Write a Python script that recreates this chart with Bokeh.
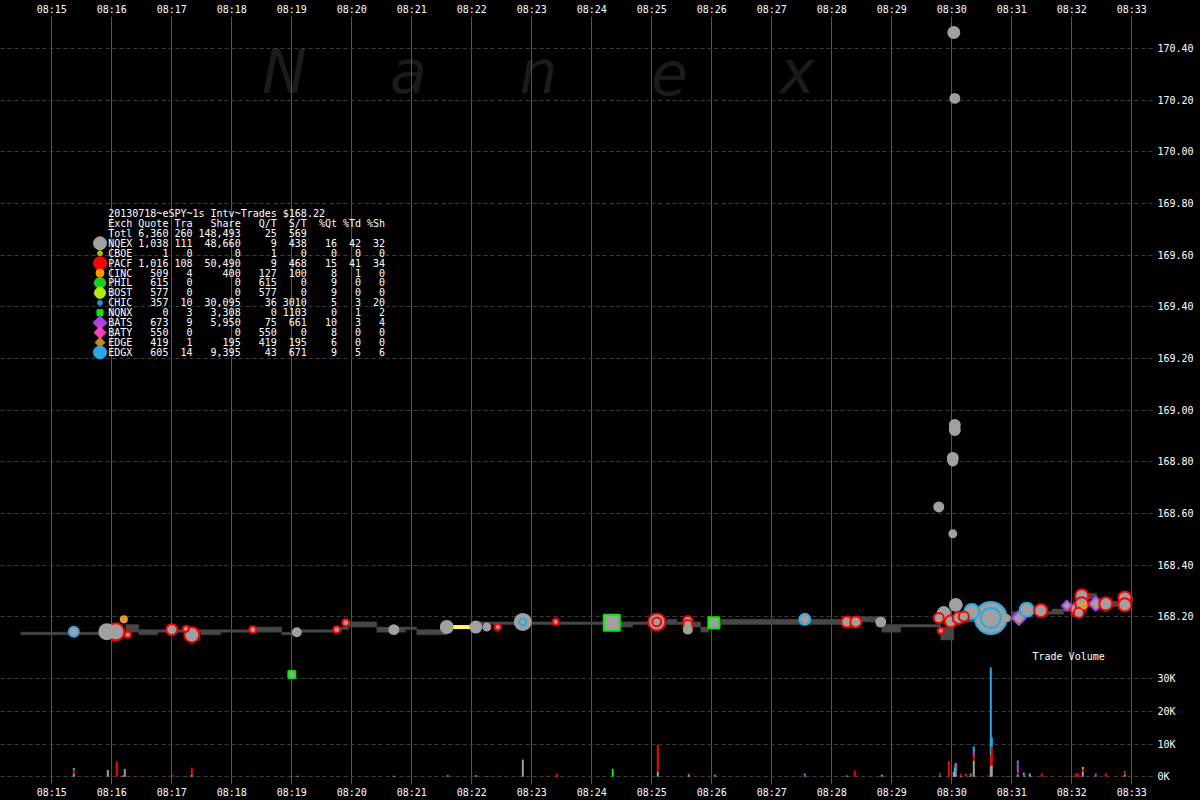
import numpy as np
from bokeh.plotting import figure
from bokeh.models import Range1d, LinearAxis, FixedTicker, ColumnDataSource, Label
from bokeh.core.properties import value
from bokeh.embed import file_html
from bokeh.resources import INLINE

# ---------------------------------------------------------------- data
title_line = "20130718~eSPY~1s Intv~Trades $168.22"
header = ["Exch", "Quote", "Tra", "Share", "Q/T", "S/T", "%Qt", "%Td", "%Sh"]
exchanges = ["NQEX", "CBOE", "PACF", "CINC", "PHIL", "BOST", "CHIC", "NQNX", "BATS", "BATY", "EDGE", "EDGX"]
ex_quote = [1038, 1, 1016, 509, 615, 577, 357, 0, 673, 550, 419, 605]
ex_trades = [111, 0, 108, 4, 0, 0, 10, 3, 9, 0, 1, 14]
ex_shares = [48660, 0, 50490, 400, 0, 0, 30095, 3308, 5950, 0, 195, 9395]
ex_qt = [9, 1, 9, 127, 615, 577, 36, 0, 75, 550, 419, 43]
ex_st = [438, 0, 468, 100, 0, 0, 3010, 1103, 661, 0, 195, 671]
ex_pct_qt = [16, 0, 15, 8, 9, 9, 5, 0, 10, 8, 6, 9]
ex_pct_td = [42, 0, 41, 1, 0, 0, 3, 1, 3, 0, 0, 5]
ex_pct_sh = [32, 0, 34, 0, 0, 0, 20, 2, 4, 0, 0, 6]
tot_quote, tot_trades, tot_shares, tot_qt, tot_st = 6360, 260, 148493, 25, 569

# quotes (bid / ask band), each lasting until the next quote time
q_time = ["08:14:29", "08:16:14", "08:16:27", "08:16:46", "08:17:29", "08:17:49", "08:18:24", "08:18:50",
          "08:19:02", "08:19:44", "08:19:57", "08:20:25", "08:20:54", "08:21:05", "08:21:35", "08:22:04",
          "08:24:28", "08:24:41", "08:25:15", "08:25:25", "08:25:40", "08:25:49", "08:25:57", "08:26:09",
          "08:28:27", "08:28:45", "08:28:50", "08:29:09", "08:29:49", "08:30:02", "08:31:00", "08:31:07",
          "08:31:40", "08:31:52", "08:32:15", "08:32:25", "08:32:40", "08:32:49", "08:32:57"]
q_end = "08:33:01"
q_bid = [168.13, 168.14, 168.13, 168.14, 168.13, 168.14, 168.14, 168.13, 168.14, 168.15, 168.16, 168.14,
         168.15, 168.13, 168.16, 168.17, 168.16, 168.17, 168.17, 168.17, 168.16, 168.14, 168.16, 168.17,
         168.18, 168.16, 168.14, 168.16, 168.11, 168.18, 168.20, 168.21, 168.21, 168.22, 168.27, 168.25,
         168.24, 168.25, 168.26]
q_ask = [168.14, 168.17, 168.15, 168.15, 168.15, 168.15, 168.16, 168.14, 168.15, 168.16, 168.18, 168.16,
         168.16, 168.15, 168.16, 168.18, 168.18, 168.18, 168.19, 168.18, 168.18, 168.16, 168.18, 168.19,
         168.20, 168.18, 168.17, 168.17, 168.16, 168.20, 168.22, 168.22, 168.23, 168.24, 168.29, 168.26,
         168.26, 168.26, 168.28]

# trades
tr_time = ["08:15:22", "08:15:55", "08:16:04", "08:16:12", "08:16:16", "08:17:00", "08:17:14", "08:17:20",
           "08:18:21", "08:19:00", "08:19:05", "08:19:45", "08:19:54", "08:20:42", "08:21:35", "08:22:04",
           "08:22:15", "08:22:26", "08:22:51", "08:22:51", "08:23:24", "08:24:20", "08:25:05", "08:25:05",
           "08:25:36", "08:25:36", "08:25:36", "08:26:02", "08:27:33", "08:28:15", "08:28:24", "08:28:49",
           "08:29:47", "08:30:02", "08:30:03", "08:30:03", "08:30:03", "08:30:01", "08:30:01", "08:30:01",
           "08:29:47", "08:29:49", "08:29:52", "08:29:59", "08:30:04", "08:30:07", "08:30:12", "08:30:20",
           "08:30:39", "08:30:39", "08:30:55", "08:31:07", "08:31:15", "08:31:29", "08:31:55", "08:32:05",
           "08:32:07", "08:32:10", "08:32:10", "08:32:12", "08:32:24", "08:32:34", "08:32:53", "08:32:53"]
tr_price = [168.142, 168.142, 168.142, 168.19, 168.13, 168.15, 168.153, 168.13,
            168.15, 167.976, 168.14, 168.15, 168.177, 168.15, 168.16, 168.16,
            168.16, 168.16, 168.18, 168.18, 168.18, 168.177, 168.18, 168.18,
            168.185, 168.17, 168.15, 168.177, 168.19, 168.18, 168.18, 168.18,
            168.625, 170.462, 170.207, 168.942, 168.923, 168.815, 168.803, 168.521,
            168.195, 168.146, 168.214, 168.182, 168.246, 168.195, 168.201, 168.22,
            168.195, 168.195, 168.195, 168.195, 168.227, 168.224, 168.243, 168.23,
            168.215, 168.281, 168.25, 168.243, 168.25, 168.25, 168.273, 168.246]
tr_exch = ["EDGX", "NQEX", "PACF", "CINC", "PACF", "PACF", "PACF", "PACF",
           "PACF", "NQNX", "NQEX", "PACF", "PACF", "NQEX", "NQEX", "NQEX",
           "NQEX", "PACF", "NQEX", "EDGX", "PACF", "NQNX", "PACF", "PACF",
           "PACF", "PACF", "NQEX", "NQNX", "EDGX", "PACF", "PACF", "NQEX",
           "NQEX", "NQEX", "NQEX", "NQEX", "NQEX", "NQEX", "NQEX", "NQEX",
           "PACF", "PACF", "NQEX", "PACF", "NQEX", "PACF", "PACF", "EDGX",
           "EDGX", "EDGX", "NQEX", "BATS", "EDGX", "PACF", "BATS", "PACF",
           "PACF", "PACF", "PACF", "CINC", "BATS", "PACF", "PACF", "PACF"]
tr_shares = [2500, 8400, 11700, 300, 300, 3400, 300, 8400,
             600, 600, 1100, 600, 600, 1700, 4400, 3400,
             600, 300, 10000, 600, 300, 10000, 11700, 1700,
             1700, 1700, 1100, 3400, 3400, 3400, 3400, 1700,
             1700, 3400, 1700, 2500, 2500, 2500, 1700, 600,
             2500, 300, 4400, 4400, 4400, 4400, 2500, 8400,
             54000, 17800, 300, 6900, 6900, 5600, 2500, 5600,
             2500, 5600, 5600, 100, 6900, 5600, 5600, 5600]

# trade volume (shares per second per exchange)
vol_time = ["08:15:22", "08:15:22", "08:15:22", "08:15:56", "08:16:05", "08:16:11", "08:16:13", "08:16:13",
            "08:16:18", "08:17:01", "08:17:15", "08:17:20", "08:17:20", "08:18:22", "08:19:00", "08:19:06",
            "08:19:46", "08:19:55", "08:20:42", "08:21:36", "08:22:04", "08:22:16", "08:22:27", "08:22:51",
            "08:22:51", "08:23:25", "08:24:21", "08:25:06", "08:25:06", "08:25:37", "08:25:37", "08:26:03",
            "08:27:33", "08:27:33", "08:28:15", "08:28:23", "08:28:50", "08:29:48", "08:29:48", "08:29:55",
            "08:29:57", "08:30:02", "08:30:03", "08:30:03", "08:30:04", "08:30:04", "08:30:09", "08:30:09",
            "08:30:14", "08:30:19", "08:30:19", "08:30:22", "08:30:22", "08:30:22", "08:30:22", "08:30:37",
            "08:30:39", "08:30:39", "08:30:39", "08:30:40", "08:30:40", "08:30:40", "08:30:56", "08:31:06",
            "08:31:06", "08:31:06", "08:31:06", "08:31:12", "08:31:12", "08:31:13", "08:31:18", "08:31:19",
            "08:31:30", "08:31:55", "08:31:59", "08:32:04", "08:32:06", "08:32:11", "08:32:11", "08:32:11",
            "08:32:24", "08:32:34", "08:32:53", "08:32:53"]
vol_exch = ["NQEX", "PACF", "EDGX", "NQEX", "PACF", "NQEX", "NQEX", "CINC",
            "PACF", "PACF", "PACF", "NQEX", "PACF", "PACF", "NQNX", "NQEX",
            "PACF", "PACF", "NQEX", "NQEX", "NQEX", "NQEX", "PACF", "NQEX",
            "PACF", "PACF", "NQNX", "NQEX", "PACF", "NQEX", "PACF", "NQNX",
            "NQEX", "EDGX", "NQEX", "PACF", "NQEX", "NQEX", "PACF", "PACF",
            "PACF", "NQEX", "NQEX", "PACF", "NQEX", "EDGX", "NQEX", "PACF",
            "PACF", "NQEX", "EDGX", "NQEX", "PACF", "BATS", "EDGX", "PACF",
            "NQEX", "PACF", "EDGX", "NQEX", "PACF", "EDGX", "NQEX", "NQEX",
            "PACF", "BATS", "EDGX", "PACF", "EDGX", "EDGX", "NQEX", "EDGX",
            "PACF", "PACF", "BATY", "PACF", "PACF", "NQEX", "PACF", "CINC",
            "BATS", "PACF", "NQEX", "PACF"]
vol_k = [1.0, 1.0, 0.7, 2.1, 4.7, 0.4, 2.0, 0.4,
         0.2, 0.5, 0.3, 0.6, 2.2, 0.2, 0.2, 0.3,
         0.2, 0.2, 0.3, 0.5, 0.5, 0.2, 0.2, 5.2,
         0.3, 0.9, 2.5, 1.5, 8.3, 0.6, 0.5, 0.6,
         0.4, 0.6, 0.4, 1.9, 0.6, 0.4, 0.8, 0.2,
         4.8, 1.5, 2.7, 1.0, 1.0, 3.2, 0.3, 0.6,
         1.0, 0.3, 0.7, 5.0, 1.3, 1.3, 1.7, 0.5,
         3.5, 3.1, 26.9, 3.4, 5.8, 2.9, 0.2, 0.7,
         0.7, 2.7, 0.9, 0.4, 0.9, 0.4, 1.0, 0.2,
         1.0, 0.2, 0.2, 1.0, 1.0, 1.6, 0.6, 0.8,
         1.0, 1.1, 0.7, 1.1]

time_ticks = ["08:15", "08:16", "08:17", "08:18", "08:19", "08:20", "08:21", "08:22", "08:23", "08:24",
              "08:25", "08:26", "08:27", "08:28", "08:29", "08:30", "08:31", "08:32", "08:33"]
price_ticks = [168.20, 168.40, 168.60, 168.80, 169.00, 169.20, 169.40, 169.60, 169.80, 170.00, 170.20, 170.40]
vol_ticks = [0, 10000, 20000, 30000]
vol_tick_labels = ["0K", "10K", "20K", "30K"]
watermark = "Nanex"

# ---------------------------------------------------------------- helpers / layout
def ts(s):
    parts = [int(v) for v in s.split(":")]
    if len(parts) == 2:
        parts.append(0)
    h, m, sec = parts
    return (h - 8) * 3600 + m * 60 + sec

# reference-pixel -> data helpers for annotations (1 px per second, 258.6 px per dollar)
def rx(px):
    return 900 + (px - 51.3)

def ry(py):
    return 168.20 + (617 - py) / 258.6

FRAME_L, FRAME_R, FRAME_T, FRAME_B = 0, 1153, 16, 785
P0, P1 = ry(FRAME_B), ry(FRAME_T)
V0, V1 = -2355.0, 232813.0
X0, X1 = rx(FRAME_L), rx(FRAME_R)

W, H = 1200, 800
MONO = "DejaVu Sans Mono"
GRAY = "#a0a0a0"
ex_color = {"NQEX": "#a0a0a0", "CBOE": "#99c31a", "PACF": "#ff0000", "CINC": "#ff9900", "PHIL": "#22cc22",
            "BOST": "#aaee11", "CHIC": "#1e8fd0", "NQNX": "#00ee00", "BATS": "#b040e0", "BATY": "#ff40c0",
            "EDGE": "#cc8822", "EDGX": "#2aa8e6"}
ex_marker = {"NQEX": "circle", "CBOE": "circle", "PACF": "circle", "CINC": "circle", "PHIL": "circle",
             "BOST": "circle", "CHIC": "circle", "NQNX": "square", "BATS": "diamond", "BATY": "diamond",
             "EDGE": "diamond", "EDGX": "circle"}
legend_size = {"NQEX": 13, "CBOE": 5, "PACF": 13, "CINC": 8, "PHIL": 11, "BOST": 11, "CHIC": 5,
               "NQNX": 6, "BATS": 14, "BATY": 12, "EDGE": 10, "EDGX": 13}

p = figure(width=W, height=H, output_backend="svg", toolbar_location=None,
           x_range=Range1d(X0, X1), y_range=Range1d(P0, P1),
           x_axis_location="below", y_axis_location="right",
           background_fill_color="black", border_fill_color="black",
           min_border_left=FRAME_L, min_border_right=W - FRAME_R,
           min_border_top=FRAME_T, min_border_bottom=H - FRAME_B)
p.outline_line_color = None
p.extra_y_ranges = {"vol": Range1d(V0, V1)}

try:
    from bokeh.models import GlobalInlineStyleSheet
    p.stylesheets = [GlobalInlineStyleSheet(css="html, body { background: #000000; }")]
except Exception:
    pass

# ---------------------------------------------------------------- axes / grids
minute_vals = [float(ts(t)) for t in time_ticks]
time_over = {v: t for v, t in zip(minute_vals, time_ticks)}

def style_axis(ax):
    ax.axis_line_color = None
    ax.major_tick_line_color = None
    ax.minor_tick_line_color = None
    ax.major_tick_out = 0
    ax.major_tick_in = 0
    ax.major_label_text_color = "white"
    ax.major_label_text_font = MONO
    ax.major_label_text_font_size = "10px"

xb = p.xaxis[0]
xb.ticker = FixedTicker(ticks=minute_vals)
xb.major_label_overrides = time_over
xb.major_label_standoff = 2
style_axis(xb)

xt = LinearAxis(ticker=FixedTicker(ticks=minute_vals), major_label_overrides=time_over)
style_axis(xt)
xt.major_label_standoff = 2
p.add_layout(xt, "above")

def vol_to_price(v):
    return round(P0 + (v - V0) / (V1 - V0) * (P1 - P0), 6)

y_ticks = [round(v, 2) for v in price_ticks] + [vol_to_price(v) for v in vol_ticks]
y_over = {round(v, 2): f"{v:.2f}" for v in price_ticks}
for v, lab in zip(vol_ticks, vol_tick_labels):
    y_over[vol_to_price(v)] = lab
ya = p.yaxis[0]
ya.ticker = FixedTicker(ticks=y_ticks)
ya.major_label_overrides = y_over
ya.major_label_standoff = 4
style_axis(ya)

p.xgrid.ticker = FixedTicker(ticks=minute_vals)
p.xgrid.grid_line_color = "#555555"
p.xgrid.grid_line_width = 1
p.ygrid.ticker = FixedTicker(ticks=y_ticks)
p.ygrid.grid_line_color = "#3c3c3c"
p.ygrid.grid_line_dash = "4 3"

# ---------------------------------------------------------------- watermark
wm = p.text(x=[rx(v) for v in (284, 408, 538, 669, 797)], y=[ry(72)] * 5, text=list(watermark),
            text_font=value("DejaVu Sans"), text_font_style="italic", text_font_size="60px",
            text_color="#1b1b1b", text_align="center", text_baseline="alphabetic")
wm.level = "image"

# ---------------------------------------------------------------- quotes band
q_x = [ts(t) for t in q_time]
q_x_end = q_x[1:] + [ts(q_end)]
normal = [i for i in range(len(q_x)) if q_ask[i] > q_bid[i]]
locked = [i for i in range(len(q_x)) if q_ask[i] <= q_bid[i]]
p.quad(left=[q_x[i] for i in normal], right=[q_x_end[i] for i in normal],
       bottom=[q_bid[i] for i in normal], top=[q_ask[i] for i in normal],
       fill_color="#474747", line_color="#474747", line_width=0.5)
p.segment(x0=[q_x[i] for i in locked], x1=[q_x_end[i] for i in locked],
          y0=[q_bid[i] for i in locked], y1=[q_ask[i] for i in locked],
          line_color="#ffff66", line_width=4)

# ---------------------------------------------------------------- trade volume bars (stacked)
stack_order = ["NQEX", "PACF", "CINC", "EDGE", "BATS", "BATY", "NQNX", "CHIC", "EDGX"]
idx = sorted(range(len(vol_time)), key=lambda i: (ts(vol_time[i]), stack_order.index(vol_exch[i])))
base = {}
vb_x, vb_b, vb_t, vb_c = [], [], [], []
for i in idx:
    t = ts(vol_time[i])
    b = base.get(t, 0.0)
    top = b + vol_k[i] * 1000
    base[t] = top
    vb_x.append(t); vb_b.append(b); vb_t.append(top); vb_c.append(ex_color[vol_exch[i]])
p.vbar(x=vb_x, width=2.0, bottom=vb_b, top=vb_t, fill_color=vb_c, line_color=None, y_range_name="vol")

# ---------------------------------------------------------------- trades
order = sorted(range(len(tr_time)), key=lambda i: -tr_shares[i])
markers, angles, sizes = [], [], []
for i in order:
    m = ex_marker[tr_exch[i]]
    d = 4 + 0.12 * np.sqrt(tr_shares[i])
    if m == "diamond":
        markers.append("square"); angles.append(np.pi / 4); sizes.append(d / 1.414)
    else:
        markers.append(m); angles.append(0.0); sizes.append(d)
tsrc = ColumnDataSource(dict(
    x=[ts(tr_time[i]) for i in order], y=[tr_price[i] for i in order],
    marker=markers, angle=angles, size=sizes,
    line=[ex_color[tr_exch[i]] for i in order]))
p.scatter(x="x", y="y", marker="marker", angle="angle", size="size", source=tsrc,
          fill_color=GRAY, line_color="line", line_width=2)

# ---------------------------------------------------------------- stats table
def fmt_row(cells):
    widths = [4, 5, 3, 7, 5, 4, 4, 3, 3]
    out = f"{cells[0]:<4}"
    for c, w in zip(cells[1:], widths[1:]):
        out += " " + f"{c:>{w}}"
    return out

rows = [title_line, fmt_row(header),
        fmt_row(["Totl", f"{tot_quote:,}", str(tot_trades), f"{tot_shares:,}", str(tot_qt), str(tot_st), "", "", ""])]
for k, ex in enumerate(exchanges):
    rows.append(fmt_row([ex, f"{ex_quote[k]:,}", str(ex_trades[k]), f"{ex_shares[k]:,}", str(ex_qt[k]),
                         str(ex_st[k]), str(ex_pct_qt[k]), str(ex_pct_td[k]), str(ex_pct_sh[k])]))
rows = [r.rstrip().replace(" ", "\u00a0") for r in rows]
row_y = [ry(213.3 + 9.93 * r) for r in range(len(rows))]
p.text(x=[rx(107.7)] * len(rows), y=row_y, text=rows, text_font=value(MONO), text_font_size="10px",
       text_color="white", text_baseline="middle", text_align="left")

lm, la, ls = [], [], []
for ex in exchanges:
    m = ex_marker[ex]
    if m == "diamond":
        lm.append("square"); la.append(np.pi / 4); ls.append(legend_size[ex] / 1.414)
    else:
        lm.append(m); la.append(0.0); ls.append(legend_size[ex])
lsrc = ColumnDataSource(dict(x=[rx(99.5)] * len(exchanges), y=row_y[3:], marker=lm, angle=la, size=ls,
                             color=[ex_color[e] for e in exchanges]))
p.scatter(x="x", y="y", marker="marker", angle="angle", size="size", color="color", source=lsrc)

p.add_layout(Label(x=rx(1032), y=ry(657), text="Trade Volume", text_color="white", text_font=MONO,
                   text_font_size="10px", text_baseline="middle", text_align="left"))

open("out.html", "w").write(file_html(p, INLINE))
